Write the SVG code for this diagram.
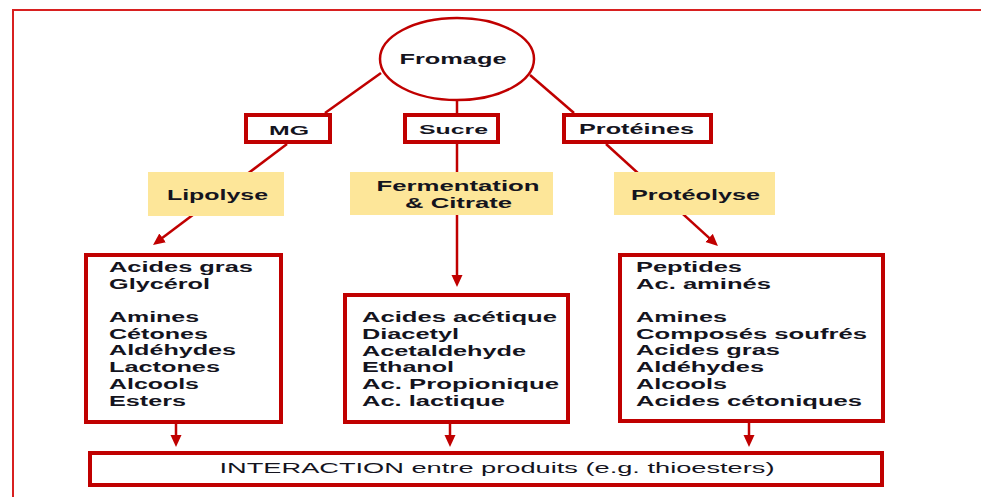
<svg xmlns="http://www.w3.org/2000/svg" width="981" height="497" viewBox="0 0 981 497">
<defs>
<style>
.frame{fill:none;stroke:#d82020;stroke-width:2}
.box{fill:#fff;stroke:#c00000;stroke-width:4}
.proc{fill:#fde699;stroke:none}
.conn{fill:none;stroke:#c00000;stroke-width:2.5}
.t{font-family:"Liberation Sans",Arial,sans-serif;font-weight:bold;fill:#14141e}
.c{text-anchor:middle}
.n{font-weight:normal}
</style>
<marker id="arr" viewBox="0 0 12 12" markerWidth="12" markerHeight="12" markerUnits="userSpaceOnUse" refX="3" refY="6" orient="auto">
<path d="M0,0.5 L12,6 L0,11.5 z" fill="#c00000"/>
</marker>
</defs>
<rect width="981" height="497" fill="#fff"/>
<rect class="frame" x="13" y="10" width="1000" height="520"/>
<g id="connectors">
<line class="conn" x1="381" y1="73" x2="325" y2="113"/>
<line class="conn" x1="457" y1="100" x2="457" y2="113"/>
<line class="conn" x1="530" y1="75" x2="574" y2="113"/>
<line class="conn" x1="287" y1="144" x2="160.2" y2="239.6" marker-end="url(#arr)"/>
<line class="conn" x1="457" y1="144" x2="457" y2="278" marker-end="url(#arr)"/>
<line class="conn" x1="606" y1="144" x2="711.3" y2="239.9" marker-end="url(#arr)"/>
<line class="conn" x1="176" y1="424" x2="176" y2="438" marker-end="url(#arr)"/>
<line class="conn" x1="450" y1="424" x2="450" y2="438" marker-end="url(#arr)"/>
<line class="conn" x1="749" y1="423" x2="749" y2="438" marker-end="url(#arr)"/>
</g>
<g id="fromage">
<ellipse cx="457" cy="59" rx="77" ry="41" fill="#fff" stroke="#c00000" stroke-width="2.5"/>
<text class="t c" x="453" y="64" font-size="15" textLength="107" lengthAdjust="spacingAndGlyphs">Fromage</text>
</g>
<g id="mg">
<rect class="box" x="246" y="115" width="84" height="27"/>
<text class="t c" x="289" y="135" font-size="13" textLength="40" lengthAdjust="spacingAndGlyphs">MG</text>
</g>
<g id="sucre">
<rect class="box" x="405" y="115" width="93" height="27"/>
<text class="t c" x="453.5" y="134" font-size="13" textLength="69" lengthAdjust="spacingAndGlyphs">Sucre</text>
</g>
<g id="proteines">
<rect class="box" x="564" y="115" width="147" height="27"/>
<text class="t c" x="636.5" y="133.5" font-size="14" textLength="115" lengthAdjust="spacingAndGlyphs">Protéines</text>
</g>
<g id="lipolyse">
<rect class="proc" x="148" y="172" width="136" height="44"/>
<text class="t c" x="217.5" y="200" font-size="15" textLength="101" lengthAdjust="spacingAndGlyphs">Lipolyse</text>
</g>
<g id="fermentation">
<rect class="proc" x="350" y="172" width="203" height="43"/>
<text class="t c" x="458" y="191" font-size="15" textLength="163" lengthAdjust="spacingAndGlyphs">Fermentation</text>
<text class="t c" x="458.5" y="208" font-size="15" textLength="107" lengthAdjust="spacingAndGlyphs">&amp; Citrate</text>
</g>
<g id="proteolyse">
<rect class="proc" x="614" y="172" width="161" height="43"/>
<text class="t c" x="695.5" y="200" font-size="15" textLength="129" lengthAdjust="spacingAndGlyphs">Protéolyse</text>
</g>
<g id="produits-mg">
<rect class="box" x="86" y="255" width="195" height="167"/>
<g class="t" font-size="14">
<text x="109" y="272" textLength="144" lengthAdjust="spacingAndGlyphs">Acides gras</text>
<text x="109" y="289" textLength="101" lengthAdjust="spacingAndGlyphs">Glycérol</text>
<text x="109" y="322" textLength="90" lengthAdjust="spacingAndGlyphs">Amines</text>
<text x="109" y="339" textLength="99" lengthAdjust="spacingAndGlyphs">Cétones</text>
<text x="109" y="355" textLength="127" lengthAdjust="spacingAndGlyphs">Aldéhydes</text>
<text x="109" y="372" textLength="111" lengthAdjust="spacingAndGlyphs">Lactones</text>
<text x="109" y="389" textLength="90" lengthAdjust="spacingAndGlyphs">Alcools</text>
<text x="109" y="406" textLength="77" lengthAdjust="spacingAndGlyphs">Esters</text>
</g>
</g>
<g id="produits-sucre">
<rect class="box" x="345" y="295" width="223" height="127"/>
<g class="t" font-size="14">
<text x="362" y="322" textLength="195" lengthAdjust="spacingAndGlyphs">Acides acétique</text>
<text x="362" y="339" textLength="97" lengthAdjust="spacingAndGlyphs">Diacetyl</text>
<text x="362" y="356" textLength="164" lengthAdjust="spacingAndGlyphs">Acetaldehyde</text>
<text x="362" y="372" textLength="92" lengthAdjust="spacingAndGlyphs">Ethanol</text>
<text x="362" y="389" textLength="197" lengthAdjust="spacingAndGlyphs">Ac. Propionique</text>
<text x="362" y="406" textLength="143" lengthAdjust="spacingAndGlyphs">Ac. lactique</text>
</g>
</g>
<g id="produits-proteines">
<rect class="box" x="620" y="255" width="263" height="166"/>
<g class="t" font-size="14">
<text x="636" y="272" textLength="106" lengthAdjust="spacingAndGlyphs">Peptides</text>
<text x="636" y="289" textLength="135" lengthAdjust="spacingAndGlyphs">Ac. aminés</text>
<text x="636" y="322" textLength="91" lengthAdjust="spacingAndGlyphs">Amines</text>
<text x="636" y="339" textLength="231" lengthAdjust="spacingAndGlyphs">Composés soufrés</text>
<text x="636" y="355" textLength="144" lengthAdjust="spacingAndGlyphs">Acides gras</text>
<text x="636" y="372" textLength="128" lengthAdjust="spacingAndGlyphs">Aldéhydes</text>
<text x="636" y="389" textLength="91" lengthAdjust="spacingAndGlyphs">Alcools</text>
<text x="636" y="406" textLength="226" lengthAdjust="spacingAndGlyphs">Acides cétoniques</text>
</g>
</g>
<g id="interaction">
<rect class="box" x="90" y="453" width="792" height="32"/>
<text class="t c n" x="497" y="473" font-size="14" textLength="555" lengthAdjust="spacingAndGlyphs">INTERACTION entre produits (e.g. thioesters)</text>
</g>
</svg>
